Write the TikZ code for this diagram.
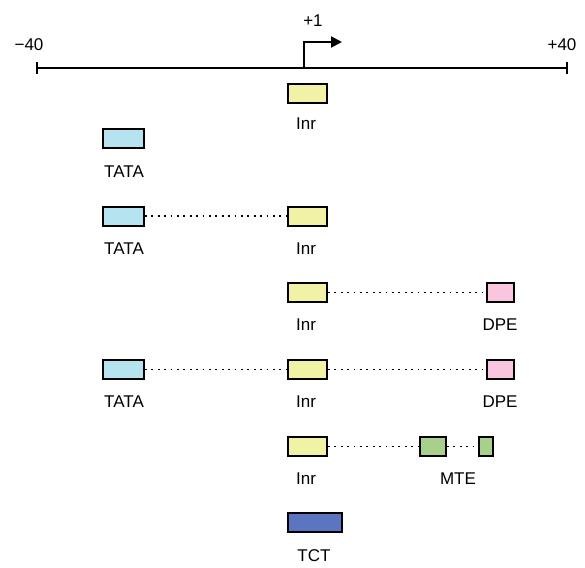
\documentclass[tikz,border=0pt]{standalone}
\usepackage{fontspec}
\setmainfont{Liberation Sans}
\usetikzlibrary{arrows.meta}
\definecolor{inrc}{HTML}{F2F2A6}
\definecolor{tatac}{HTML}{B5E3EF}
\definecolor{dpec}{HTML}{F9C5DF}
\definecolor{mtec}{HTML}{A9CF8C}
\definecolor{tctc}{HTML}{5C75C2}
\tikzset{
  elem/.style={draw=black, line width=2pt, minimum height=19pt, inner sep=0pt},
  inr/.style={elem, fill=inrc, minimum width=39pt},
  tata/.style={elem, fill=tatac, minimum width=41pt},
  dpe/.style={elem, fill=dpec, minimum width=27pt},
  mte/.style={elem, fill=mtec, minimum width=26pt},
  mtes/.style={elem, fill=mtec, minimum width=14pt},
  tct/.style={elem, fill=tctc, minimum width=54pt},
  lab/.style={font=\fontsize{17}{19}\selectfont, inner sep=0pt},
  link/.style={line width=1.8pt, dash pattern=on 1.8pt off 4.6pt},
}
\begin{document}
\begin{tikzpicture}[x=1pt,y=-1pt]
\useasboundingbox (0,0) rectangle (585,567);
% axis
\coordinate (axL) at (37,68);
\coordinate (axR) at (567,68);
\coordinate (tss) at (304,68);
\coordinate (tssTop) at (304,42);
\coordinate (tssArr) at (342,42);
\draw[line width=2pt] (axL) -- (axR);
\draw[line width=2pt] ([yshift=-6pt]axL) -- ([yshift=6pt]axL);
\draw[line width=2pt] ([yshift=-6pt]axR) -- ([yshift=6pt]axR);
\draw[line width=2pt, -{Triangle[length=11pt,width=11pt]}] (tss) -- (tssTop) -- (tssArr);
\node[lab] (m40) at (29,45) {−40};
\node[lab] (p40) at (562,45) {+40};
\node[lab] (p1) at (313,21) {+1};
% row 1
\node[inr] (inr1) at (307.5,93.5) {};
\node[lab] (linr1) at (306,124) {Inr};
% row 2
\node[tata] (tata2) at (123.5,138.5) {};
\node[lab] (ltata2) at (124,172) {TATA};
% row 3
\node[tata] (tata3) at (123.5,216) {};
\node[inr] (inr3) at (307.5,216) {};
\draw[link] (tata3) -- (inr3);
\node[lab] (ltata3) at (124,249) {TATA};
\node[lab] (linr3) at (306,249) {Inr};
% row 4
\node[inr] (inr4) at (307.5,292.5) {};
\node[dpe] (dpe4) at (500.5,292.5) {};
\draw[link] (inr4) -- (dpe4);
\node[lab] (linr4) at (306,325) {Inr};
\node[lab] (ldpe4) at (500,325) {DPE};
% row 5
\node[tata] (tata5) at (123.5,369.5) {};
\node[inr] (inr5) at (307.5,369.5) {};
\node[dpe] (dpe5) at (500.5,369.5) {};
\draw[link] (tata5) -- (inr5);
\draw[link] (inr5) -- (dpe5);
\node[lab] (ltata5) at (124,402) {TATA};
\node[lab] (linr5) at (306,402) {Inr};
\node[lab] (ldpe5) at (500,402) {DPE};
% row 6
\node[inr] (inr6) at (307.5,446.5) {};
\node[mte] (mte6) at (433,446.5) {};
\node[mtes] (mtes6) at (486,446.5) {};
\draw[link] (inr6) -- (mte6);
\draw[link] (mte6) -- (mtes6);
\node[lab] (linr6) at (306,479) {Inr};
\node[lab] (lmte6) at (458,479) {MTE};
% row 7
\node[tct] (tct7) at (315,522.5) {};
\node[lab] (ltct7) at (314,556) {TCT};
\end{tikzpicture}
\end{document}
